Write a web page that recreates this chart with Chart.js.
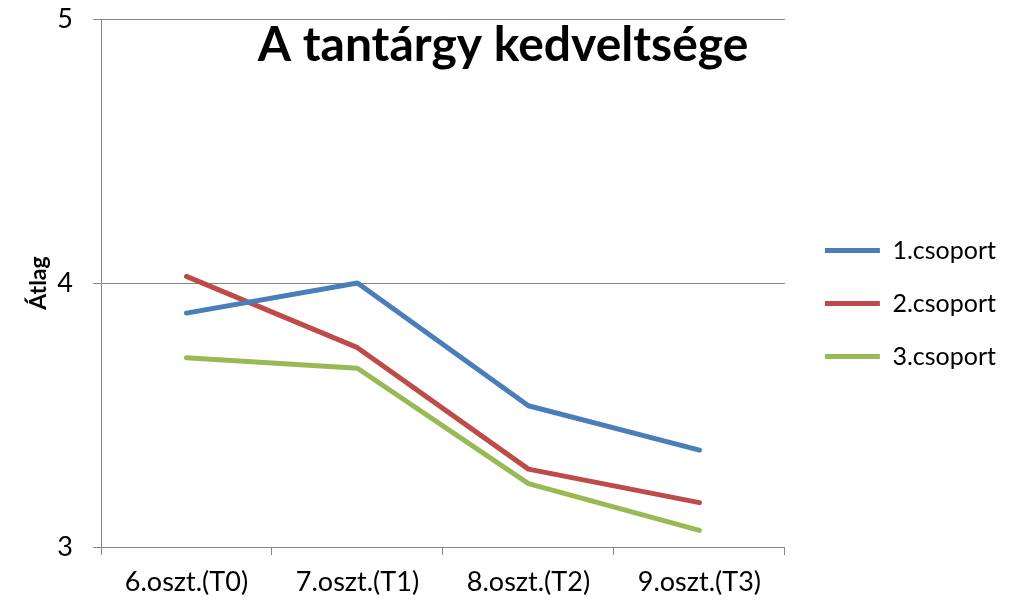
<!DOCTYPE html>
<html>
<head>
<meta charset="utf-8">
<script src="https://cdn.jsdelivr.net/npm/chart.js@4"></script>
<style>
  html, body { margin: 0; padding: 0; background: #ffffff; }
  #wrap { width: 1019px; height: 606px; }
</style>
</head>
<body>
<div id="wrap"><canvas id="chart" width="1019" height="606"></canvas></div>
<script>
// Adatok
const categories = ['6.oszt.(T0)', '7.oszt.(T1)', '8.oszt.(T2)', '9.oszt.(T3)'];
const group1 = [3.886, 4.0, 3.535, 3.367];
const group2 = [4.025, 3.755, 3.295, 3.168];
const group3 = [3.717, 3.677, 3.240, 3.063];
const seriesNames = ['1.csoport', '2.csoport', '3.csoport'];
const yTicks = [3, 4, 5];
const chartTitle = 'A tantárgy kedveltsége';
const yTitle = 'Átlag';

const fontFamily = 'Lato, "Open Sans", sans-serif';
const axisGray = '#868686';

// Cím kirajzolása a rajzterületen belül
const titlePlugin = {
    id: 'innerTitle',
    afterDraw(chart) {
        const ctx = chart.ctx;
        ctx.save();
        ctx.font = 'bold 48px ' + fontFamily;
        ctx.fillStyle = '#000000';
        ctx.textAlign = 'center';
        ctx.textBaseline = 'middle';
        ctx.fillText(chartTitle, 503, 46);
        ctx.restore();
    }
};

// Jelmagyarázat kicsit feljebb tolása
const legendShift = {
    id: 'legendShift',
    afterLayout(chart) {
        if (chart.legend) {
            chart.legend.top -= 9;
            chart.legend.bottom -= 9;
        }
    }
};

const ctx = document.getElementById('chart').getContext('2d');

const lineChart = new Chart(ctx, {
    type: 'line',
    data: {
        labels: categories,
        datasets: [
            { label: seriesNames[0], data: group1, borderColor: '#4A7EBB', backgroundColor: '#4A7EBB', borderWidth: 5 },
            { label: seriesNames[1], data: group2, borderColor: '#BE4B48', backgroundColor: '#BE4B48', borderWidth: 5 },
            { label: seriesNames[2], data: group3, borderColor: '#98B954', backgroundColor: '#98B954', borderWidth: 5 }
        ]
    },
    options: {
        responsive: false,
        animation: false,
        layout: { padding: { top: 19, right: 13, bottom: 0, left: 0 } },
        elements: {
            line: { tension: 0, borderCapStyle: 'round', borderJoinStyle: 'round' },
            point: { radius: 0, hoverRadius: 0 }
        },
        plugins: {
            title: { display: false },
            tooltip: { enabled: false },
            legend: {
                position: 'right',
                maxWidth: 300,
                labels: {
                    usePointStyle: true,
                    pointStyle: 'line',
                    pointStyleWidth: 55,
                    padding: 28,
                    color: '#000000',
                    font: { family: fontFamily, size: 25 }
                }
            }
        },
        scales: {
            x: {
                offset: true,
                grid: {
                    display: true,
                    offset: true,
                    drawOnChartArea: false,
                    tickLength: 8,
                    color: axisGray
                },
                border: { display: true, color: axisGray },
                ticks: {
                    color: '#000000',
                    padding: 11,
                    maxRotation: 0,
                    font: { family: fontFamily, size: 27 }
                },
                afterFit: (s) => { s.height = 59; s.paddingLeft = 0; s.paddingRight = 0; }
            },
            y: {
                min: 3,
                max: 5,
                afterBuildTicks: (s) => { s.ticks = yTicks.map(v => ({ value: v })); },
                grid: { color: axisGray, tickLength: 8 },
                border: { display: true, color: axisGray },
                ticks: {
                    color: '#000000',
                    padding: 20,
                    font: { family: fontFamily, size: 27 }
                },
                title: {
                    display: true,
                    text: yTitle,
                    color: '#000000',
                    padding: { top: 25, bottom: 0 },
                    font: { family: fontFamily, size: 23, weight: 'bold' }
                },
                afterFit: (s) => { s.width = 101; s.paddingTop = 0; s.paddingBottom = 0; }
            },
            // üres távtartó tengely a rajzterület és a jelmagyarázat között
            spacer: {
                type: 'linear',
                position: 'right',
                display: true,
                grid: { display: false },
                border: { display: false },
                ticks: { display: false },
                afterFit: (s) => { s.width = 12; s.paddingTop = 0; s.paddingBottom = 0; }
            }
        }
    },
    plugins: [titlePlugin, legendShift]
});
</script>
</body>
</html>
